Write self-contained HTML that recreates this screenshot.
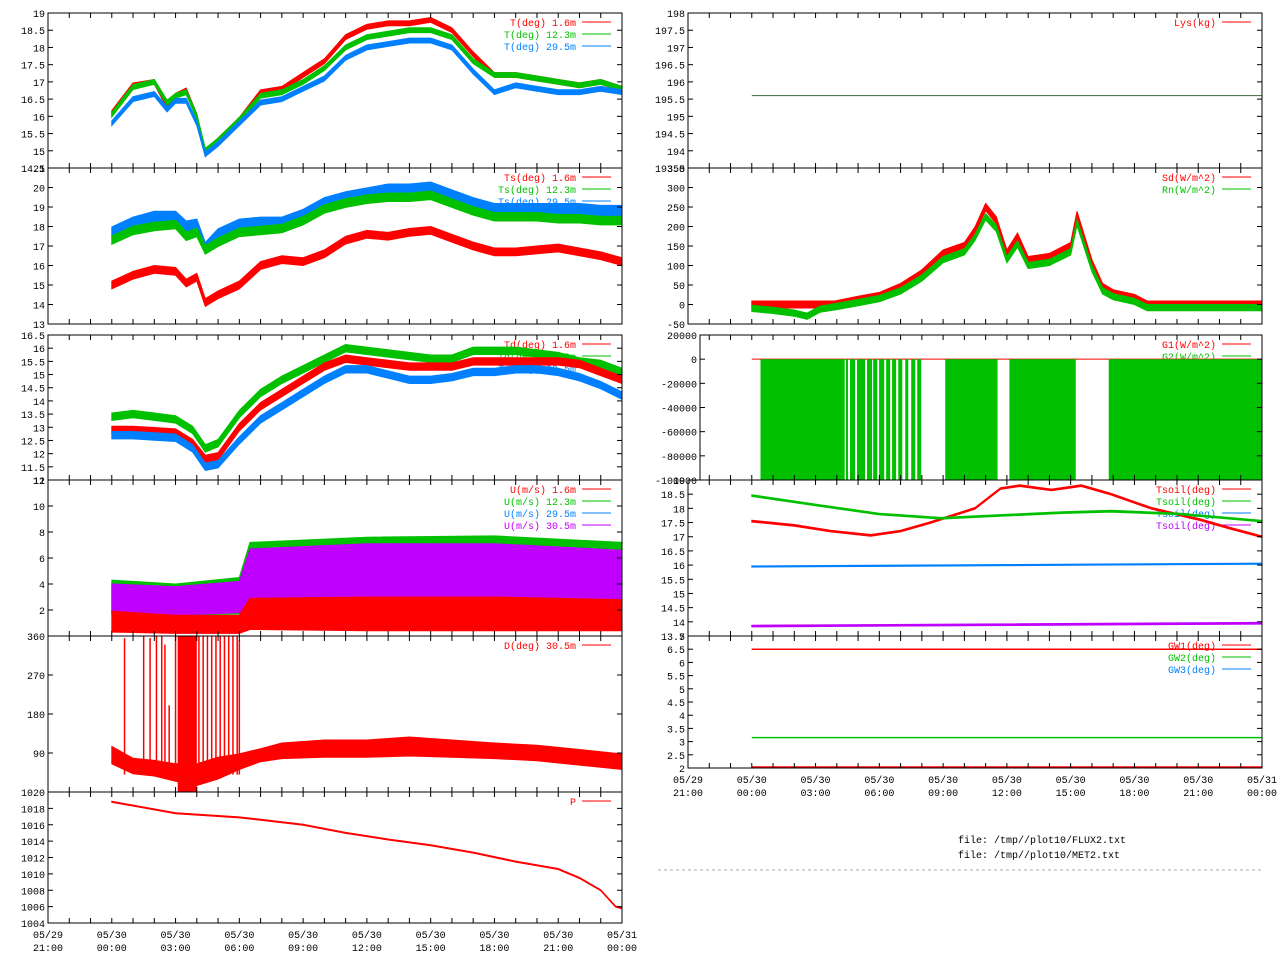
<!DOCTYPE html>
<html><head><meta charset="utf-8"><style>
html,body{margin:0;padding:0;background:#fff;}
svg{display:block;font-family:"Liberation Mono","DejaVu Sans Mono",monospace;font-size:10px;}
</style></head><body>
<svg id="chart" width="1280" height="960" viewBox="0 0 1280 960" xmlns="http://www.w3.org/2000/svg">
<rect x="0" y="0" width="1280" height="960" fill="#fff"/>
<text x="958" y="843" fill="#000">file: /tmp//plot10/FLUX2.txt</text>
<text x="958" y="858" fill="#000">file: /tmp//plot10/MET2.txt</text>
<line x1="658" y1="870" x2="1262" y2="870" stroke="#aaa" stroke-dasharray="3,3"/>
</svg>
<script>
// ---------- data ----------
const xTickLabels = ["05/29|21:00","05/30|00:00","05/30|03:00","05/30|06:00","05/30|09:00","05/30|12:00","05/30|15:00","05/30|18:00","05/30|21:00","05/31|00:00"];
// Air temperature
const tT = [0,1,2,2.6,3,3.5,4,4.4,5,6,7,8,9,10,11,12,13,14,15,16,17,18,19,20,21,22,23,24];
const T1 = [16.1,16.9,17.0,16.3,16.6,16.75,16.0,14.9,15.3,15.9,16.7,16.8,17.2,17.6,18.3,18.6,18.7,18.7,18.8,18.5,17.8,17.2,17.2,17.1,17.0,16.9,17.0,16.8];
const T2 = [16.05,16.85,17.0,16.4,16.6,16.7,16.0,15.0,15.3,15.9,16.6,16.7,17.0,17.4,18.0,18.3,18.4,18.5,18.5,18.3,17.6,17.2,17.2,17.1,17.0,16.9,17.0,16.8];
const T3 = [15.8,16.5,16.65,16.2,16.45,16.45,15.8,14.9,15.2,15.8,16.4,16.5,16.8,17.1,17.7,18.0,18.1,18.2,18.2,18.0,17.3,16.7,16.9,16.8,16.7,16.7,16.8,16.7];
const yTicksT = [15,15.5,16,16.5,17,17.5,18,18.5,19];
// Sonic temperature
const tTs = [0,1,2,3,3.5,4,4.4,5,6,7,8,9,10,11,12,13,14,15,16,17,18,19,20,21,22,23,24];
const Ts1 = [15.0,15.5,15.8,15.7,15.1,15.4,14.1,14.5,15.0,16.0,16.3,16.2,16.6,17.3,17.6,17.5,17.7,17.8,17.4,17.0,16.7,16.7,16.8,16.9,16.7,16.5,16.2];
const Ts2 = [17.3,17.8,18.0,18.1,17.5,17.7,16.8,17.2,17.7,17.8,17.9,18.3,18.9,19.2,19.4,19.5,19.5,19.6,19.2,18.8,18.5,18.5,18.5,18.4,18.4,18.3,18.3];
const Ts3 = [17.7,18.2,18.5,18.5,18.0,18.1,16.9,17.6,18.1,18.2,18.2,18.6,19.2,19.5,19.7,19.9,19.9,20.0,19.6,19.2,18.9,18.9,18.9,18.9,18.9,18.8,18.8];
const yTicksTs = [13,14,15,16,17,18,19,20];
// Dew point
const tTd = [0,1,2,3,3.8,4.4,5,6,7,8,9,10,11,12,13,14,15,16,17,18,19,20,21,22,23,24];
const Td1 = [12.9,12.9,12.85,12.8,12.4,11.8,11.9,13.0,13.8,14.3,14.8,15.3,15.6,15.5,15.4,15.3,15.3,15.3,15.5,15.5,15.5,15.5,15.5,15.4,15.1,14.8];
const Td2 = [13.4,13.5,13.4,13.3,12.9,12.2,12.4,13.5,14.3,14.8,15.2,15.6,16.0,15.9,15.8,15.7,15.6,15.6,15.9,15.9,15.9,15.8,15.7,15.5,15.4,15.1];
const Td3 = [12.7,12.7,12.65,12.6,12.2,11.5,11.6,12.5,13.3,13.8,14.3,14.8,15.2,15.2,15.0,14.8,14.8,14.9,15.1,15.1,15.2,15.2,15.1,14.9,14.6,14.2];
const yTicksTd = [11.5,12,12.5,13,13.5,14,14.5,15,15.5,16,16.5];
// Wind speed (center and spread)
const tU = [0,3,6,6.5,12,18,24];
const U1 = [1.1,0.9,0.9,1.7,1.7,1.7,1.6];
const U1amp = [0.8,0.7,0.7,1.2,1.3,1.3,1.2];
const U2 = [3.0,2.8,3.1,4.7,4.9,5.0,4.7];
const U2amp = [1.3,1.2,1.4,2.5,2.7,2.7,2.5];
const U4 = [2.9,2.7,3.0,4.5,4.7,4.7,4.4];
const U4amp = [1.1,1.1,1.2,2.2,2.4,2.4,2.2];
const yTicksU = [2,4,6,8,10];
// Wind direction
const tD = [0,1,2,3,4,5,6,7,8,10,12,14,16,18,20,22,24];
const D1 = [85,60,55,45,40,55,70,85,95,100,100,105,100,95,90,80,70];
const D1amp = [20,18,18,20,25,25,18,15,18,20,20,22,20,18,18,18,18];
const dSpikeT = [0.6,1.5,1.8,2.1,2.35,2.5,2.7,3.0,4.1,4.3,4.5,4.7,4.9,5.1,5.3,5.5,5.7,5.9,6.0];
const dSpikeV = [355,360,355,360,360,340,200,360,360,360,360,360,360,360,360,360,360,360,350];
const dBlockStart = [3.1];
const dBlockEnd = [4.0];
const yTicksD = [90,180,270,360];
// Pressure
const tP = [0,3,6,7,9,11,13,15,17,19,21,22,23,23.7,24];
const P1 = [1018.8,1017.4,1016.9,1016.6,1016.0,1015.0,1014.2,1013.5,1012.6,1011.5,1010.6,1009.5,1008.0,1006.0,1005.8];
const yTicksP = [1004,1006,1008,1010,1012,1014,1016,1018,1020];
// Lysimeter
const tL = [0,24];
const L1 = [195.6,195.6];
const yTicksL = [194,194.5,195,195.5,196,196.5,197,197.5,198];
// Radiation
const tS = [0,3.9,5,6,7,8,9,10,10.5,11,11.5,12,12.5,13,14,15,15.3,16,16.5,17,18,18.6,24];
const Sd = [0,0,12,22,45,80,131,150,190,250,216,131,174,114,122,150,230,106,45,29,17,0,0];
const tR = [0,1,2,2.6,3.2,4,5,6,7,8,9,10,10.5,11,11.5,12,12.5,13,14,15,15.3,16,16.5,17,18,18.6,24];
const Rn = [-10,-15,-22,-30,-12,-5,5,15,35,68,115,135,172,225,195,115,155,100,108,135,210,92,35,20,8,-8,-8];
const yTicksS = [-50,0,50,100,150,200,250,300];
// Soil heat flux: filled intervals (hours)
const gStart = [0.41,4.43,4.62,4.95,5.42,5.71,5.99,6.32,6.6,6.89,7.22,7.5,7.78,9.1,12.12,16.79];
const gEnd   = [4.37,4.53,4.86,5.33,5.66,5.9,6.23,6.51,6.79,7.08,7.36,7.69,7.97,11.56,15.24,24.0];
const gFillValue = [-100000];
const yTicksG = [-100000,-80000,-60000,-40000,-20000,0,20000];
// Soil temperature
const tSo1 = [0,2,3.7,5.6,7,8.4,10.5,11.7,12.6,14.1,15.5,16.9,18.8,21.1,22.5,24];
const So1 = [17.55,17.4,17.2,17.05,17.2,17.5,18.0,18.7,18.8,18.65,18.8,18.5,18.0,17.6,17.3,17.0];
const tSo2 = [0,3.2,6,8.9,11.7,14.6,16.9,20.2,24];
const So2 = [18.45,18.1,17.8,17.65,17.75,17.85,17.9,17.8,17.55];
const tSo3 = [0,24];
const So3 = [15.95,16.05];
const So4 = [13.85,13.95];
const yTicksSo = [13.5,14,14.5,15,15.5,16,16.5,17,17.5,18,18.5];
// Ground water
const tGW = [0,24];
const GW1 = [6.5,6.5];
const GW2 = [3.15,3.15];
const GW3 = [6.5,6.5];
const GW0 = [2.0,2.0];
const yTicksGW = [2,2.5,3,3.5,4,4.5,5,5.5,6,6.5];

// ---------- drawing ----------
const NS = "http://www.w3.org/2000/svg";
const svg = document.getElementById("chart");
const RED="#ff0000", GRN="#00c000", BLU="#0080ff", PUR="#c000ff";
function mk(tag, attrs){ const e=document.createElementNS(NS,tag); for(const k in attrs) e.setAttribute(k,attrs[k]); svg.appendChild(e); return e; }

function makePanel(c){
  const xs = h => c.sx0 + (h+3)/27*(c.sx1-c.sx0);
  const ys = v => c.y1 - (v-c.ymin)/(c.ymax-c.ymin)*(c.y1-c.y0);
  return Object.assign(c,{xs,ys});
}
function drawFrame(p){
  const r = mk("rect",{x:p.x0,y:p.y0,width:p.x1-p.x0,height:p.y1-p.y0,fill:"none",stroke:"#000","stroke-width":1});
  
  
  for(let h=-3; h<=24; h++){
    const x = p.xs(h);
    if(x < p.x0-0.5) continue;
    const t1 = mk("line",{x1:x,y1:p.y1,x2:x,y2:p.y1-5,stroke:"#000"});
    
    
    const t2 = mk("line",{x1:x,y1:p.y0,x2:x,y2:p.y0+5,stroke:"#000"});
    
    
  }
  p.yticks.forEach(v=>{
    const y = p.ys(v);
    const a = mk("line",{x1:p.x0,y1:y,x2:p.x0+5,y2:y,stroke:"#000"});
    
    
    const b = mk("line",{x1:p.x1,y1:y,x2:p.x1-5,y2:y,stroke:"#000"});
    
    
    const t = mk("text",{x:p.x0-3,y:y+4,"text-anchor":"end",fill:"#000"});
    
    
    t.textContent = String(v);
  });
  if(p.xlabels){
    xTickLabels.forEach((s,i)=>{
      const x = p.xs(-3+3*i);
      const parts = s.split("|");
      const t = mk("text",{x:x,y:p.y1+15,"text-anchor":"middle",fill:"#000"});
      
      
      t.textContent = parts[0];
      const t2 = mk("text",{x:x,y:p.y1+28,"text-anchor":"middle",fill:"#000"});
      
      
      t2.textContent = parts[1];
    });
  }
}
function drawLegend(p, entries){
  entries.forEach((e,i)=>{
    const y = p.y0 + 9 + 12*i;
    const t = mk("text",{x:p.x1-46,y:y+4,"text-anchor":"end",fill:e[1]});
    
    
    t.textContent = e[0];
    const l = mk("line",{x1:p.x1-40,y1:y,x2:p.x1-11,y2:y,stroke:e[1],"stroke-width":1});
    
    
  });
}
function clampY(p,y){ return Math.max(p.y0+1, Math.min(p.y1-1, y)); }
function drawSeries(p, ts, vs, amp, color, name){
  if(amp){
    const up=[], lo=[];
    ts.forEach((t,i)=>{
      const a = Array.isArray(amp)?amp[i]:amp;
      up.push(p.xs(t).toFixed(1)+","+clampY(p,p.ys(vs[i]+a)).toFixed(1));
      lo.unshift(p.xs(t).toFixed(1)+","+clampY(p,p.ys(vs[i]-a)).toFixed(1));
    });
    const b = mk("polygon",{points:up.concat(lo).join(" "),fill:color,stroke:color,"stroke-width":1});
    
    
  }
  const pts = ts.map((t,i)=>p.xs(t).toFixed(1)+","+clampY(p,p.ys(vs[i])).toFixed(1)).join(" ");
  const l = mk("polyline",{points:pts,fill:"none",stroke:color,"stroke-width":1.5});
  
  
}

const LX0=48, LX1=622, RX0=688, RX1=1262;
// Left column
const pT = makePanel({name:"temp-panel",x0:LX0,x1:LX1,sx0:LX0,sx1:LX1,y0:13,y1:168,ymin:14.5,ymax:19,yticks:yTicksT.concat([14.5])});
drawLegend(pT,[["T(deg)  1.6m",RED],["T(deg) 12.3m",GRN],["T(deg) 29.5m",BLU]]);
drawSeries(pT,tT,T1,0.07,RED,"temp-1-6m");
drawSeries(pT,tT,T2,0.07,GRN,"temp-12-3m");
drawSeries(pT,tT,T3,0.07,BLU,"temp-29-5m");
drawFrame(pT);

const pTs = makePanel({name:"sonic-temp-panel",x0:LX0,x1:LX1,sx0:LX0,sx1:LX1,y0:168,y1:324,ymin:13,ymax:21,yticks:yTicksTs.concat([21])});
drawLegend(pTs,[["Ts(deg)  1.6m",RED],["Ts(deg) 12.3m",GRN],["Ts(deg) 29.5m",BLU]]);
drawSeries(pTs,tTs,Ts3,0.28,BLU,"ts-29-5m");
drawSeries(pTs,tTs,Ts2,0.22,GRN,"ts-12-3m");
drawSeries(pTs,tTs,Ts1,0.2,RED,"ts-1-6m");
drawFrame(pTs);

const pTd = makePanel({name:"dewpoint-panel",x0:LX0,x1:LX1,sx0:LX0,sx1:LX1,y0:335,y1:480,ymin:11,ymax:16.5,yticks:yTicksTd.concat([11])});
drawLegend(pTd,[["Td(deg)  1.6m",RED],["Td(deg) 12.3m",GRN],["Td(deg) 29.5m",BLU]]);
drawSeries(pTd,tTd,Td2,0.14,GRN,"td-12-3m");
drawSeries(pTd,tTd,Td1,0.14,RED,"td-1-6m");
drawSeries(pTd,tTd,Td3,0.14,BLU,"td-29-5m");
drawFrame(pTd);

const pU = makePanel({name:"wind-speed-panel",x0:LX0,x1:LX1,sx0:LX0,sx1:LX1,y0:480,y1:636,ymin:0,ymax:12,yticks:yTicksU.concat([12])});
drawLegend(pU,[["U(m/s)  1.6m",RED],["U(m/s) 12.3m",GRN],["U(m/s) 29.5m",BLU],["U(m/s) 30.5m",PUR]]);
drawSeries(pU,tU,U2,U2amp,GRN,"u-12-3m");
drawSeries(pU,tU,U4,U4amp,PUR,"u-30-5m");
drawSeries(pU,tU,U1,U1amp,RED,"u-1-6m");
drawFrame(pU);

const pD = makePanel({name:"wind-dir-panel",x0:LX0,x1:LX1,sx0:LX0,sx1:LX1,y0:636,y1:792,ymin:0,ymax:360,yticks:yTicksD});
drawLegend(pD,[["D(deg)  30.5m",RED]]);
drawSeries(pD,tD,D1,D1amp,RED,"dir-30-5m");
dSpikeT.forEach((t,i)=>{
  const l = mk("line",{x1:pD.xs(t),y1:pD.ys(40),x2:pD.xs(t),y2:pD.ys(dSpikeV[i]),stroke:RED,"stroke-width":1.5});
  
  
});
dBlockStart.forEach((s,i)=>{
  const r = mk("rect",{x:pD.xs(s),y:pD.ys(360),width:pD.xs(dBlockEnd[i])-pD.xs(s),height:pD.ys(0)-pD.ys(360),fill:RED});
  
  
});
drawFrame(pD);

const pP = makePanel({name:"pressure-panel",x0:LX0,x1:LX1,sx0:LX0,sx1:LX1,y0:792,y1:923,ymin:1004,ymax:1020,yticks:yTicksP,xlabels:true});
drawLegend(pP,[["P",RED]]);
drawSeries(pP,tP,P1,0.06,RED,"pressure");
drawFrame(pP);

// Right column
const pL = makePanel({name:"lysimeter-panel",x0:RX0,x1:RX1,sx0:RX0,sx1:RX1,y0:13,y1:168,ymin:193.5,ymax:198,yticks:yTicksL.concat([193.5])});
drawLegend(pL,[["Lys(kg)",RED]]);
(function(){
  const l = mk("line",{x1:pL.xs(tL[0]),y1:pL.ys(L1[0]),x2:pL.xs(tL[1]),y2:pL.ys(L1[1]),stroke:"#3c6a3c","stroke-width":1});
  
  
})();
drawFrame(pL);

const pS = makePanel({name:"radiation-panel",x0:RX0,x1:RX1,sx0:RX0,sx1:RX1,y0:168,y1:324,ymin:-50,ymax:350,yticks:yTicksS.concat([350])});
drawLegend(pS,[["Sd(W/m^2)",RED],["Rn(W/m^2)",GRN]]);
drawSeries(pS,tS,Sd,9,RED,"sd");
drawSeries(pS,tR,Rn,8,GRN,"rn");
drawFrame(pS);

const pG = makePanel({name:"soil-flux-panel",x0:700,x1:RX1,sx0:RX0,sx1:RX1,y0:335,y1:480,ymin:-100000,ymax:20000,yticks:yTicksG});
drawLegend(pG,[["G1(W/m^2)",RED],["G2(W/m^2)",GRN]]);
(function(){
  const l = mk("line",{x1:pG.xs(0),y1:pG.ys(0),x2:pG.xs(24),y2:pG.ys(0),stroke:RED,"stroke-width":1});
  
  
})();
gStart.forEach((s,i)=>{
  const r = mk("rect",{x:pG.xs(s),y:pG.ys(0),width:pG.xs(gEnd[i])-pG.xs(s),height:pG.ys(gFillValue[0])-pG.ys(0),fill:GRN});
  
  
});
drawFrame(pG);

const pSo = makePanel({name:"soil-temp-panel",x0:RX0,x1:RX1,sx0:RX0,sx1:RX1,y0:480,y1:636,ymin:13.5,ymax:19,yticks:yTicksSo.concat([19])});
drawLegend(pSo,[["Tsoil(deg)",RED],["Tsoil(deg)",GRN],["Tsoil(deg)",BLU],["Tsoil(deg)",PUR]]);
drawSeries(pSo,tSo1,So1,0.03,RED,"tsoil-1");
drawSeries(pSo,tSo2,So2,0.03,GRN,"tsoil-2");
drawSeries(pSo,tSo3,So3,0.02,BLU,"tsoil-3");
drawSeries(pSo,tSo3,So4,0.03,PUR,"tsoil-4");
drawFrame(pSo);

const pGW = makePanel({name:"groundwater-panel",x0:RX0,x1:RX1,sx0:RX0,sx1:RX1,y0:636,y1:768,ymin:2,ymax:7,yticks:yTicksGW.concat([7]),xlabels:true});
drawLegend(pGW,[["GW1(deg)",RED],["GW2(deg)",GRN],["GW3(deg)",BLU]]);
drawSeries(pGW,tGW,GW3,0,BLU,"gw3");
drawSeries(pGW,tGW,GW1,0,RED,"gw1");
drawSeries(pGW,tGW,GW2,0,GRN,"gw2");
drawSeries(pGW,tGW,GW0,0,RED,"gw-bottom");
drawFrame(pGW);
</script>
</body></html>
